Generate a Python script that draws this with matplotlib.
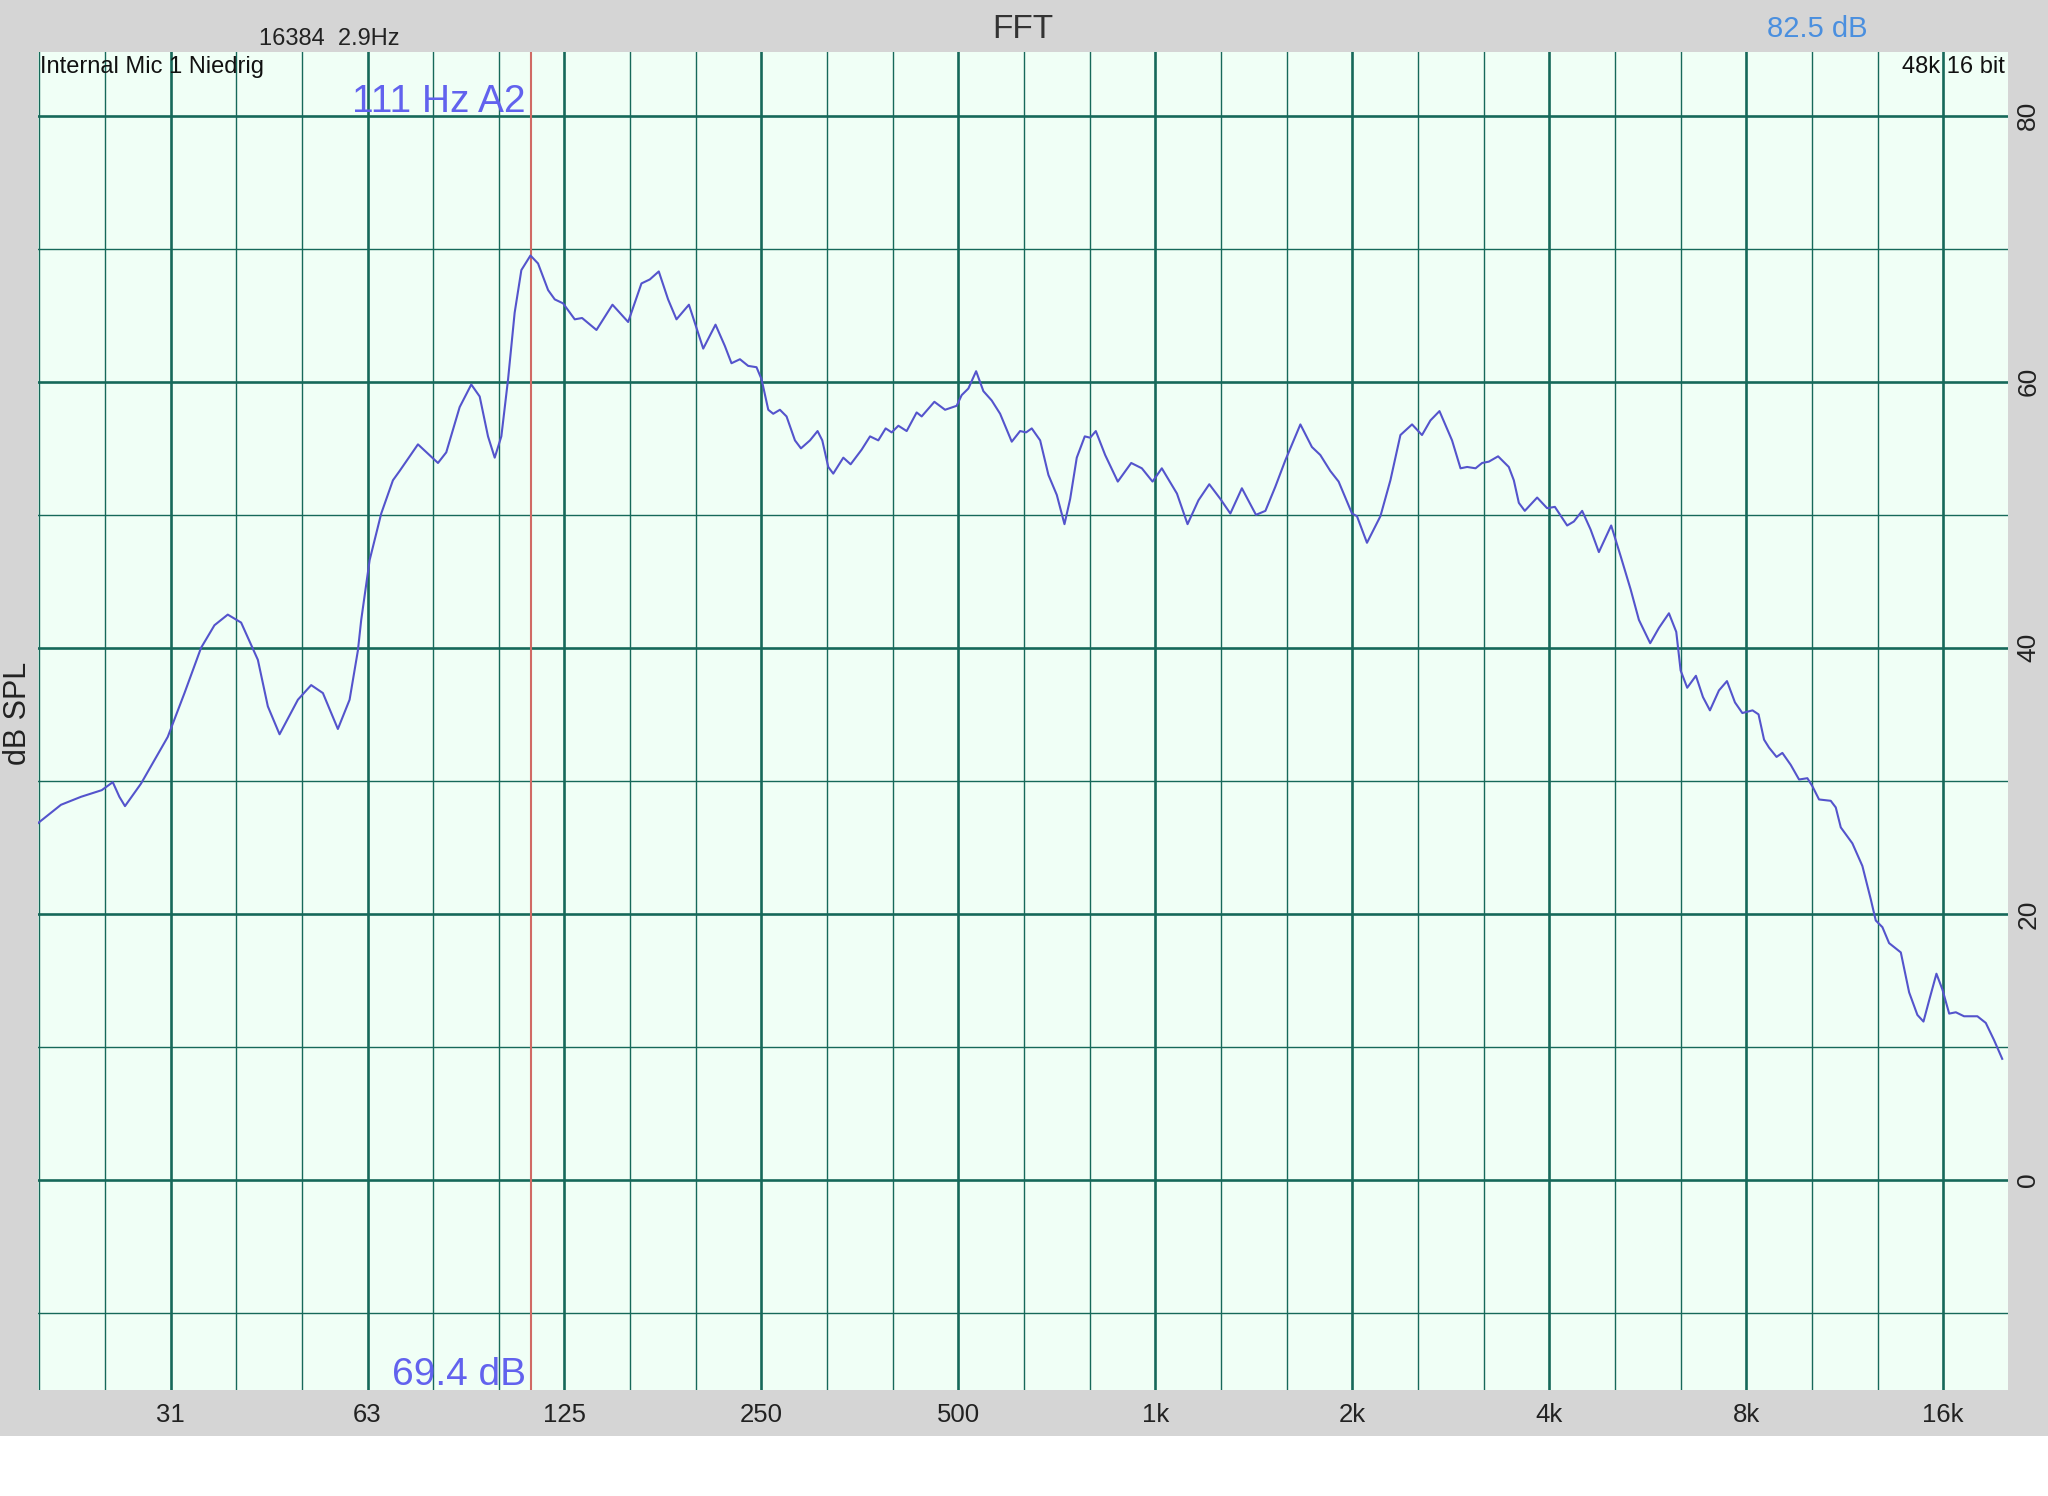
import matplotlib
matplotlib.use("Agg")
import matplotlib.pyplot as plt
from matplotlib.patches import Rectangle
from matplotlib.ticker import FixedLocator, NullFormatter

# --- data ---
freq_hz = [19.46, 21.25, 22.80, 24.53, 25.50, 26.10, 26.62, 28.17, 30.94, 32.82,
           34.79, 36.47, 38.22, 40.06, 42.49, 44.01, 45.86, 48.92, 51.26, 53.42,
           56.31, 58.68, 60.42, 61.13, 62.97, 65.59, 68.35, 69.98, 74.64, 80.09,
           82.46, 86.44, 90.05, 92.75, 95.51, 97.79, 100.1, 102.5, 104.9, 107.4,
           110.9, 113.9, 118.0, 120.8, 124.4, 129.6, 133.0, 139.9, 148.0, 156.4,
           163.9, 168.8, 174.2, 180.0, 185.4, 193.7, 203.7, 212.7, 219.8, 225.0,
           231.8, 238.6, 245.7, 250.1, 256.1, 260.6, 266.8, 273.1, 281.3, 287.3,
           296.6, 304.6, 309.7, 316.3, 321.9, 333.5, 342.2, 355.7, 366.4, 377.2,
           387.1, 395.4, 404.8, 416.8, 431.7, 439.4, 459.5, 477.1, 497.0, 505.8,
           517.9, 532.2, 546.0, 562.2, 579.1, 603.3, 621.3, 634.6, 647.3, 666.7,
           686.4, 706.9, 726.3, 741.0, 758.4, 780.1, 795.1, 811.0, 838.1, 876.2,
           918.6, 953.6, 990.2, 1023, 1079, 1120, 1164, 1209, 1257, 1302,
           1356, 1425, 1473, 1525, 1580, 1666, 1735, 1787, 1851, 1906,
           1998, 2033, 2106, 2208, 2287, 2369, 2468, 2556, 2633, 2718,
           2841, 2927, 2996, 3086, 3158, 3234, 3341, 3469, 3531, 3594,
           3670, 3833, 3970, 4080, 4260, 4362, 4491, 4626, 4763, 4974,
           5142, 5326, 5484, 5706, 5884, 6095, 6254, 6351, 6500, 6702,
           6870, 7041, 7268, 7476, 7689, 7891, 8180, 8354, 8518, 8669,
           8901, 9085, 9357, 9635, 9921, 10097, 10337, 10771, 10964, 11159,
           11624, 12040, 12401, 12621, 12919, 13227, 13784, 14193, 14612, 14928,
           15230, 15625, 15960, 16342, 16729, 17219, 18047, 18588, 19140, 19695]

level_db = [26.7, 28.2, 28.8, 29.3, 29.9, 28.8, 28.1, 29.8, 33.3, 36.6,
            40.0, 41.7, 42.5, 41.9, 39.1, 35.6, 33.5, 36.1, 37.2, 36.6,
            33.9, 36.1, 39.8, 42.1, 46.6, 50.1, 52.6, 53.3, 55.3, 53.9,
            54.7, 58.1, 59.8, 58.9, 55.9, 54.3, 55.9, 60.2, 65.2, 68.4,
            69.5, 68.9, 66.9, 66.2, 65.9, 64.7, 64.8, 63.9, 65.8, 64.5,
            67.4, 67.7, 68.3, 66.2, 64.7, 65.8, 62.5, 64.3, 62.7, 61.4,
            61.7, 61.2, 61.1, 60.2, 57.9, 57.6, 57.9, 57.4, 55.6, 55.0,
            55.6, 56.3, 55.6, 53.6, 53.1, 54.3, 53.8, 54.9, 55.9, 55.6,
            56.5, 56.2, 56.7, 56.3, 57.7, 57.4, 58.5, 57.9, 58.2, 59.0,
            59.5, 60.8, 59.3, 58.6, 57.6, 55.5, 56.3, 56.2, 56.5, 55.6,
            53.0, 51.5, 49.3, 51.2, 54.3, 55.9, 55.8, 56.3, 54.5, 52.5,
            53.9, 53.5, 52.5, 53.5, 51.6, 49.3, 51.1, 52.3, 51.2, 50.1,
            52.0, 50.0, 50.3, 52.1, 54.1, 56.8, 55.1, 54.5, 53.3, 52.5,
            50.1, 49.9, 47.9, 49.9, 52.6, 56.0, 56.8, 56.0, 57.1, 57.8,
            55.6, 53.5, 53.6, 53.5, 53.9, 54.0, 54.4, 53.6, 52.6, 50.9,
            50.3, 51.3, 50.5, 50.6, 49.2, 49.5, 50.3, 48.9, 47.2, 49.2,
            46.9, 44.4, 42.1, 40.35, 41.5, 42.6, 41.2, 38.3, 37.0, 37.9,
            36.3, 35.3, 36.8, 37.5, 35.9, 35.1, 35.3, 35.0, 33.1, 32.5,
            31.8, 32.1, 31.2, 30.1, 30.2, 29.6, 28.6, 28.5, 28.0, 26.5,
            25.3, 23.6, 21.1, 19.5, 19.0, 17.8, 17.1, 14.1, 12.4, 11.9,
            13.5, 15.5, 14.3, 12.5, 12.6, 12.3, 12.3, 11.8, 10.5, 9.1]

octave_ticks = [31.25, 62.5, 125, 250, 500, 1000, 2000, 4000, 8000, 16000]
octave_labels = ["31", "63", "125", "250", "500", "1k", "2k", "4k", "8k", "16k"]
db_major = [0, 20, 40, 60, 80]
db_minor = [-10, 10, 30, 50, 70]

cursor_hz = 111
cursor_note = "A2"
cursor_db = 69.4

fft_info = "16384  2.9Hz"
title = "FFT"
overall_level = "82.5 dB"
input_name = "Internal Mic 1 Niedrig"
format_info = "48k 16 bit"

# --- colours ---
GRAY = "#d5d5d5"
PLOT_BG = "#f0fff6"
GRID = "#16695a"
CURVE = "#5454cc"
CURSOR = "#d06a64"
LABEL_BLUE = "#6262ee"

plt.rcParams['font.family'] = ['Liberation Sans', 'DejaVu Sans']

W, H = 2048, 1496


def fx(px):
	return px / W


def fy(py):
	return 1 - py / H


fig = plt.figure(figsize=(W / 100, H / 100), dpi=100, facecolor="white")

# grauer Rahmen wie in der App (unten ein weisser Streifen)
fig.add_artist(Rectangle((0, fy(1436)), 1, 1 - fy(1436), transform=fig.transFigure,
                         facecolor=GRAY, edgecolor="none", zorder=-1))

ax = fig.add_axes([fx(38), fy(1390), fx(2008) - fx(38), fy(52) - fy(1390)])
ax.set_facecolor(PLOT_BG)
for s in ax.spines.values():
	s.set_visible(False)

ax.plot(freq_hz, level_db, color=CURVE, lw=1.5, solid_joinstyle="round", zorder=4)
ax.axvline(cursor_hz, color=CURSOR, lw=1.5, zorder=3)

ax.set_xscale("log")
ax.set_xlim(19.6, 20100)
ax.set_ylim(-15.8, 84.8)

# Terz-Linien (duenn) zwischen den Oktaven
third_lines = [1000 * 2 ** (k / 3) for k in range(-17, 14) if k % 3]
ax.xaxis.set_major_locator(FixedLocator(octave_ticks))
ax.set_xticklabels(octave_labels)
ax.xaxis.set_minor_locator(FixedLocator(third_lines))
ax.xaxis.set_minor_formatter(NullFormatter())

ax.yaxis.tick_right()
ax.set_yticks(db_major)
ax.set_yticks(db_minor, minor=True)
ax.yaxis.set_minor_formatter(NullFormatter())

ax.grid(which="major", color=GRID, lw=1.9)
ax.grid(which="minor", color=GRID, lw=1.0)
ax.set_axisbelow(True)

ax.tick_params(which="both", length=0)
ax.tick_params(axis="x", pad=9, labelsize=18.5, labelcolor="#222222")
ax.tick_params(axis="y", pad=6, labelsize=19, labelcolor="#222222", labelrotation=90)
for lab in ax.get_yticklabels():
	lab.set_va("center")

# Cursor-Beschriftungen
ax.annotate(f"{cursor_hz} Hz {cursor_note}", xy=(cursor_hz, 1), xycoords=("data", "axes fraction"),
            xytext=(-5, -50), textcoords="offset pixels", ha="right", va="center",
            fontsize=28, color=LABEL_BLUE)
ax.annotate(f"{cursor_db} dB", xy=(cursor_hz, 0), xycoords=("data", "axes fraction"),
            xytext=(-5, 15), textcoords="offset pixels", ha="right", va="center",
            fontsize=28, color=LABEL_BLUE)

# Kopfzeile und Beschriftungen im Rahmen
fig.text(fx(259), fy(39), fft_info, ha="left", va="center", fontsize=17, color="#222222")
fig.text(fx(1023), fy(29), title, ha="center", va="center", fontsize=24, color="#333333")
fig.text(fx(1817), fy(29), overall_level, ha="center", va="center", fontsize=21, color="#4a8fdf")
fig.text(fx(40), fy(67), input_name, ha="left", va="center", fontsize=17, color="#111111")
fig.text(fx(2005), fy(67), format_info, ha="right", va="center", fontsize=17, color="#111111")
fig.text(fx(18), fy(713), "dB SPL", ha="center", va="center", rotation=90, fontsize=22, color="#222222")

fig.savefig("out.png", dpi=100)
